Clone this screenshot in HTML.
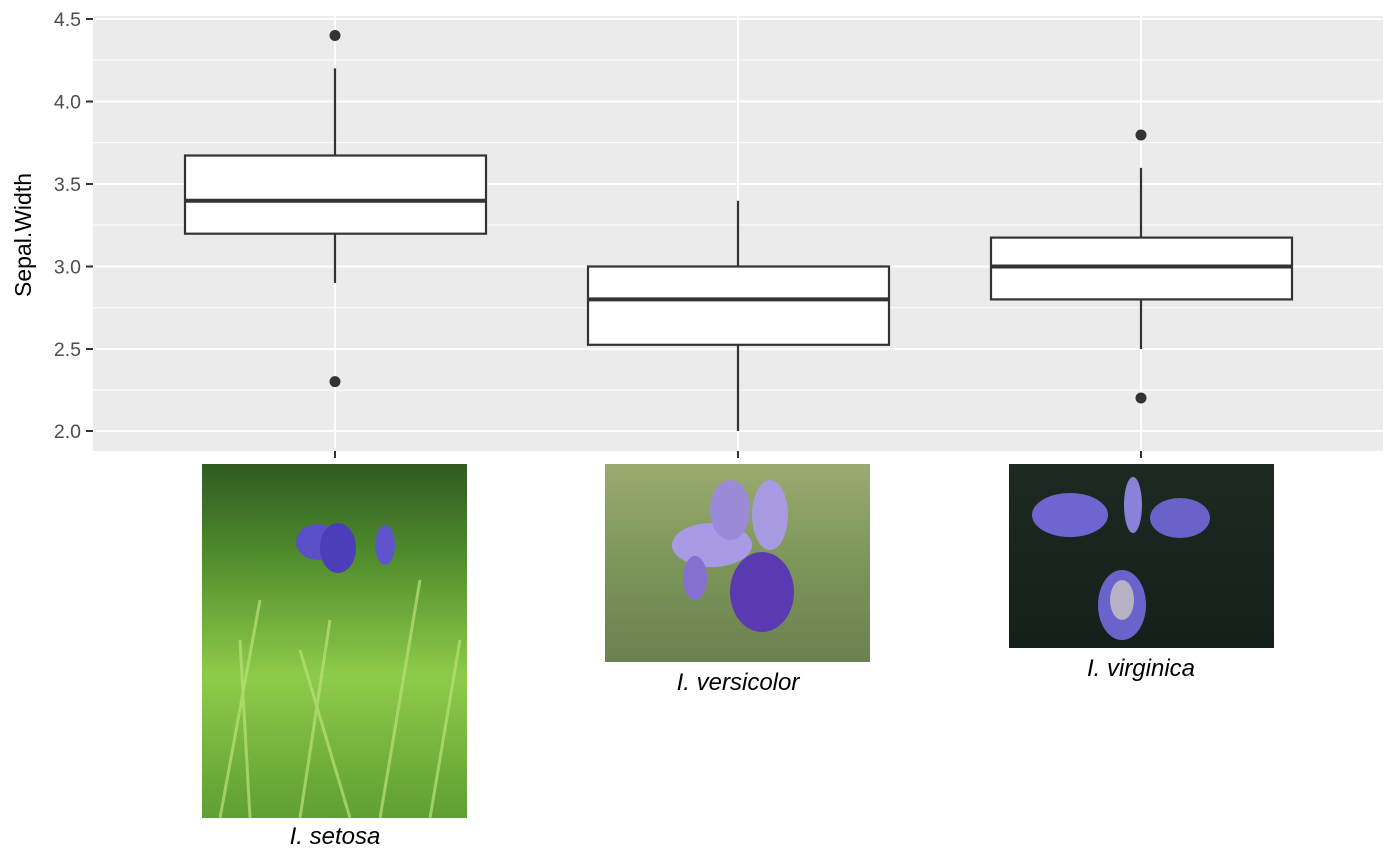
<!DOCTYPE html>
<html><head><meta charset="utf-8"><style>
html,body{margin:0;padding:0;background:#fff;}
svg{display:block;font-family:"Liberation Sans",Arial,sans-serif;}
</style></head><body>
<svg width="1398" height="858" viewBox="0 0 1398 858" xmlns="http://www.w3.org/2000/svg">
<defs>
<linearGradient id="g1" x1="0" y1="0" x2="0" y2="1">
<stop offset="0" stop-color="#2f5a22"/><stop offset="0.25" stop-color="#4f8a2c"/><stop offset="0.6" stop-color="#8fcb4a"/><stop offset="1" stop-color="#5f9e32"/></linearGradient>
<linearGradient id="g2" x1="0" y1="0" x2="0" y2="1">
<stop offset="0" stop-color="#9bab70"/><stop offset="0.5" stop-color="#7c9659"/><stop offset="1" stop-color="#6b8050"/></linearGradient>
<linearGradient id="g3" x1="0" y1="0" x2="0" y2="1">
<stop offset="0" stop-color="#1c2a22"/><stop offset="1" stop-color="#14201a"/></linearGradient>
</defs>
<rect x="93" y="16" width="1290" height="435" fill="#ebebeb"/>
<g stroke="#fff" stroke-width="1">
<line x1="93" x2="1383" y1="60" y2="60"/><line x1="93" x2="1383" y1="142.6" y2="142.6"/>
<line x1="93" x2="1383" y1="225" y2="225"/><line x1="93" x2="1383" y1="307.6" y2="307.6"/>
<line x1="93" x2="1383" y1="390" y2="390"/>
</g>
<g stroke="#fff" stroke-width="2">
<line x1="93" x2="1383" y1="19" y2="19"/><line x1="93" x2="1383" y1="101.5" y2="101.5"/>
<line x1="93" x2="1383" y1="184" y2="184"/><line x1="93" x2="1383" y1="266.5" y2="266.5"/>
<line x1="93" x2="1383" y1="349" y2="349"/><line x1="93" x2="1383" y1="431" y2="431"/>
<line x1="335" x2="335" y1="16" y2="451"/><line x1="738" x2="738" y1="16" y2="451"/><line x1="1141" x2="1141" y1="16" y2="451"/>
</g>
<g stroke="#333" stroke-width="2">
<line x1="86" x2="93" y1="19" y2="19"/><line x1="86" x2="93" y1="101.5" y2="101.5"/><line x1="86" x2="93" y1="184" y2="184"/>
<line x1="86" x2="93" y1="266.5" y2="266.5"/><line x1="86" x2="93" y1="349" y2="349"/><line x1="86" x2="93" y1="431" y2="431"/>
<line x1="335" x2="335" y1="451" y2="458"/><line x1="738" x2="738" y1="451" y2="458"/><line x1="1141" x2="1141" y1="451" y2="458"/>
</g>
<g font-size="19.5" fill="#4d4d4d" text-anchor="end">
<text x="81" y="26">4.5</text><text x="81" y="108.5">4.0</text><text x="81" y="191">3.5</text>
<text x="81" y="273.5">3.0</text><text x="81" y="356">2.5</text><text x="81" y="438">2.0</text>
</g>
<text transform="translate(31,235) rotate(-90)" font-size="23" text-anchor="middle" fill="#000">Sepal.Width</text>
<g stroke="#333" stroke-width="2.2" fill="#fff">
<line x1="335" x2="335" y1="68.4" y2="155.5"/><line x1="335" x2="335" y1="233.7" y2="283"/>
<rect x="185" y="155.5" width="301" height="78.2"/>
<line x1="185" x2="486" y1="200.8" y2="200.8" stroke-width="4"/>
<line x1="738" x2="738" y1="200.8" y2="266.5"/><line x1="738" x2="738" y1="344.8" y2="431"/>
<rect x="588" y="266.5" width="301" height="78.3"/>
<line x1="588" x2="889" y1="299.4" y2="299.4" stroke-width="4"/>
<line x1="1141" x2="1141" y1="167.9" y2="237.6"/><line x1="1141" x2="1141" y1="299.4" y2="349"/>
<rect x="991" y="237.6" width="301" height="61.8"/>
<line x1="991" x2="1292" y1="266.5" y2="266.5" stroke-width="4"/>
</g>
<g fill="#333">
<circle cx="335" cy="35.5" r="5.5"/><circle cx="335" cy="381.6" r="5.5"/>
<circle cx="1141" cy="135" r="5.5"/><circle cx="1141" cy="398" r="5.5"/>
</g>
<rect x="202" y="464" width="265" height="354" fill="url(#g1)"/>
<g stroke="#b9e27a" stroke-width="3" opacity="0.7">
<line x1="220" y1="818" x2="260" y2="600"/><line x1="250" y1="818" x2="240" y2="640"/><line x1="300" y1="818" x2="330" y2="620"/>
<line x1="380" y1="818" x2="420" y2="580"/><line x1="430" y1="818" x2="460" y2="640"/><line x1="350" y1="818" x2="300" y2="650"/>
</g>
<ellipse cx="318" cy="542" rx="22" ry="18" fill="#5a4fc6"/><ellipse cx="338" cy="548" rx="18" ry="25" fill="#4a3fb8"/>
<ellipse cx="385" cy="545" rx="10" ry="20" fill="#5e55cc"/>
<rect x="605" y="464" width="265" height="198" fill="url(#g2)"/>
<ellipse cx="712" cy="545" rx="40" ry="22" fill="#a99ae6"/><ellipse cx="770" cy="515" rx="18" ry="35" fill="#a89ae0"/>
<ellipse cx="730" cy="510" rx="20" ry="30" fill="#9a8ad8"/><ellipse cx="762" cy="592" rx="32" ry="40" fill="#5a3ab0"/>
<ellipse cx="695" cy="578" rx="12" ry="22" fill="#8570cf"/>
<rect x="1009" y="464" width="265" height="184" fill="url(#g3)"/>
<ellipse cx="1070" cy="515" rx="38" ry="22" fill="#6e65d0"/><ellipse cx="1180" cy="518" rx="30" ry="20" fill="#6a62c8"/>
<ellipse cx="1122" cy="605" rx="24" ry="35" fill="#6b63cc"/><ellipse cx="1133" cy="505" rx="9" ry="28" fill="#8a82d8"/>
<ellipse cx="1122" cy="600" rx="12" ry="20" fill="#e8e6c0" opacity="0.6"/>
<g font-size="24" font-style="italic" text-anchor="middle" fill="#000">
<text x="335" y="844">I. setosa</text>
<text x="738" y="690">I. versicolor</text>
<text x="1141" y="676">I. virginica</text>
</g>
</svg>
</body></html>
